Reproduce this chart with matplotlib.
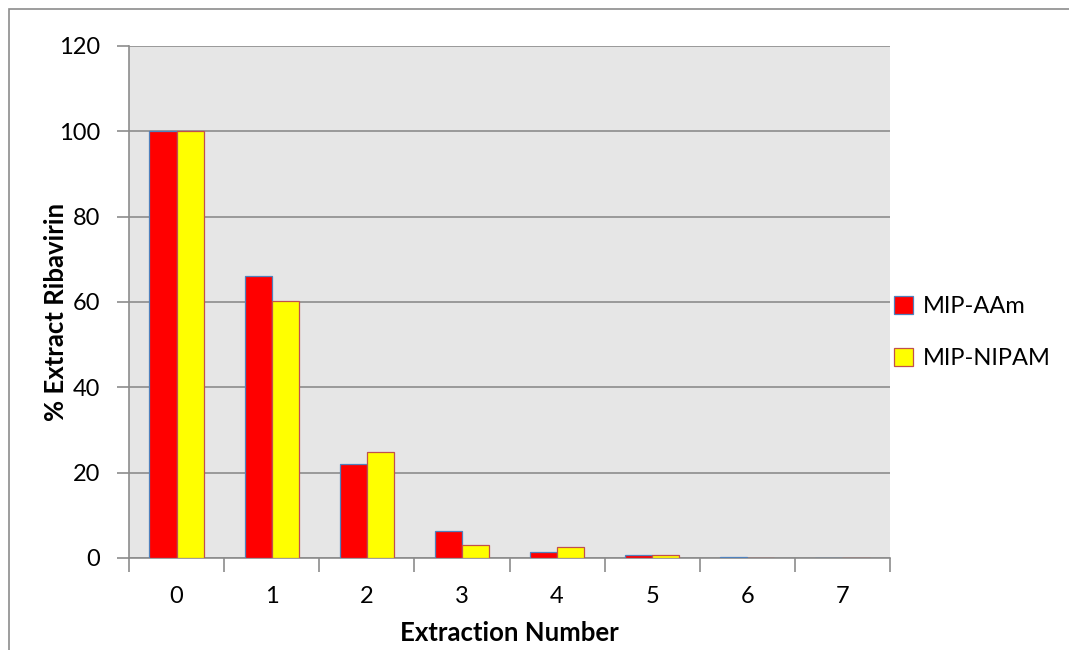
import matplotlib.pyplot as plt
import numpy as np
from matplotlib.patches import Rectangle

extraction = [0, 1, 2, 3, 4, 5, 6, 7]
mip_aam = [100, 66.1, 22.0, 6.3, 1.3, 0.6, 0.2, 0]
mip_nipam = [100, 60.3, 24.8, 3.0, 2.6, 0.6, 0, 0]

plt.rcParams['font.family'] = ['Lato', 'DejaVu Sans']

fig = plt.figure(figsize=(10.69, 6.5), dpi=100)
fig.patches.append(Rectangle((9 / 1069, -0.1), 1.2, (650 - 9) / 650 + 0.1,
                             transform=fig.transFigure, fill=False,
                             edgecolor='#8c8c8c', linewidth=1.2))
ax = fig.add_axes([129 / 1069, (650 - 558) / 650, 761 / 1069, 512 / 650])
ax.set_facecolor('#e6e6e6')

x = np.arange(len(extraction))
w = 1 / 3.5
ax.bar(x - w / 2, mip_aam, w, color='#ff0000', edgecolor='#4f81bd', linewidth=0.9,
       label='MIP-AAm', zorder=3)
ax.bar(x + w / 2, mip_nipam, w, color='#ffff00', edgecolor='#c0504d', linewidth=0.9,
       label='MIP-NIPAM', zorder=3)

ax.set_xlim(-0.5, len(extraction) - 0.5)
ax.set_ylim(0, 120)
ax.set_yticks(range(0, 121, 20))
ax.yaxis.grid(True, color='#8c8c8c', linewidth=1.2, zorder=1)
ax.set_axisbelow(True)

ax.set_xticks(x)
ax.set_xticklabels([str(e) for e in extraction])
ax.set_xticks(np.arange(-0.5, len(extraction)), minor=True)
ax.tick_params(axis='x', which='major', length=0, pad=20, labelsize=17)
ax.tick_params(axis='x', which='minor', length=10, color='#8c8c8c', width=1.2)
ax.tick_params(axis='y', length=9, color='#8c8c8c', width=1.2, pad=12, labelsize=17)

for s in ['top', 'right']:
    ax.spines[s].set_visible(False)
for s in ['left', 'bottom']:
    ax.spines[s].set_color('#8c8c8c')
    ax.spines[s].set_linewidth(1.2)

ax.set_xlabel('Extraction Number', fontsize=18.5, fontweight='bold', labelpad=10)
ax.set_ylabel('% Extract Ribavirin', fontsize=18.5, fontweight='bold')
ax.yaxis.set_label_coords(-0.08, 0.48)

ax.legend(loc='center left', bbox_to_anchor=(0.99, 0.44), frameon=False,
          fontsize=17, handlelength=0.8, handleheight=0.8, handletextpad=0.4,
          labelspacing=1.3, borderaxespad=0.1)

fig.savefig('out.png', dpi=100)
